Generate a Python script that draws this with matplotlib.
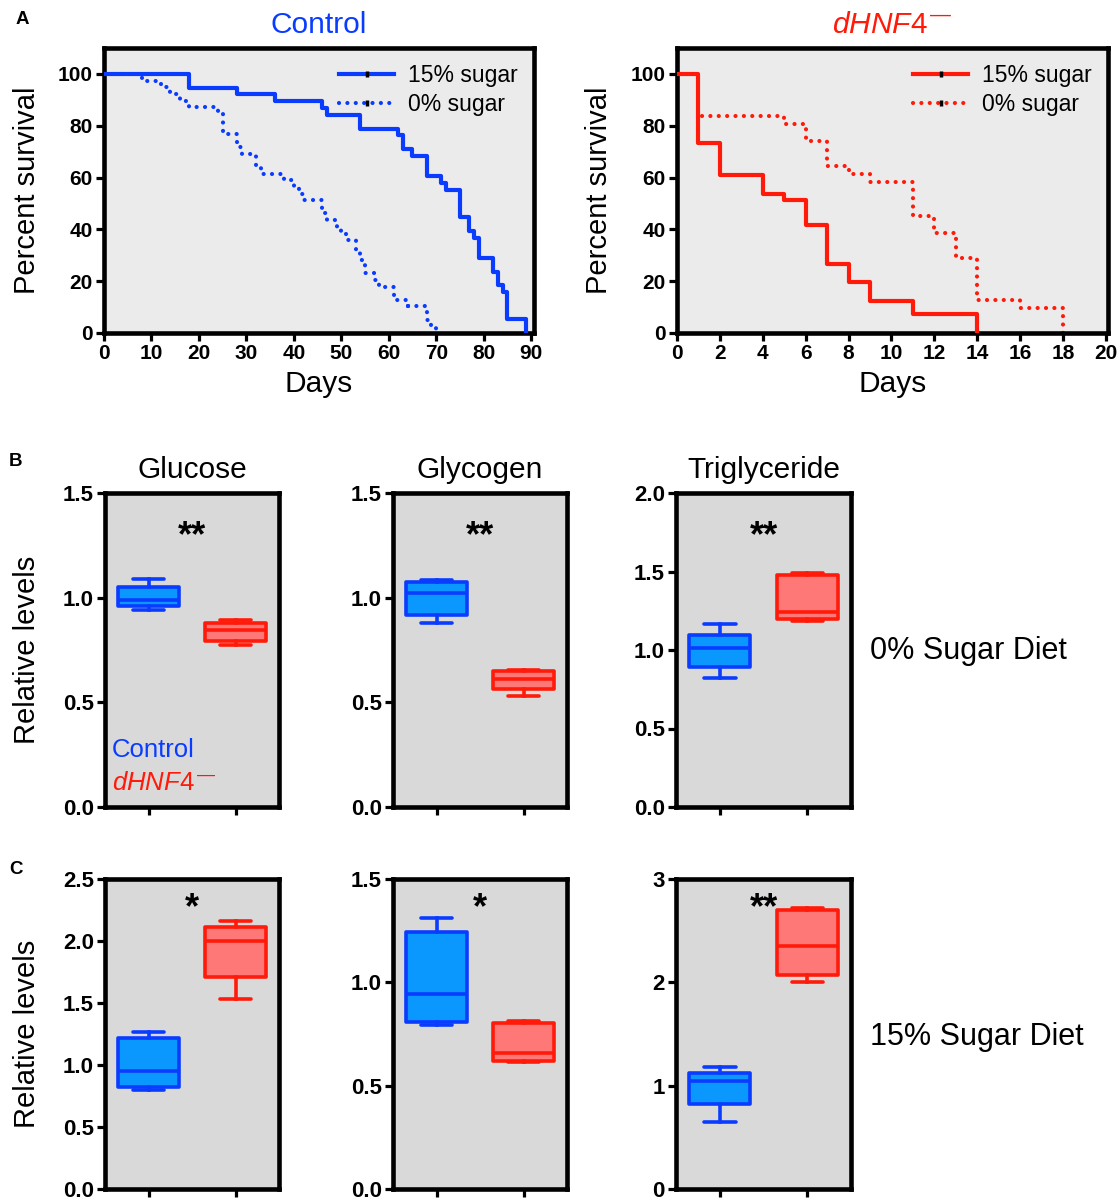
import matplotlib
matplotlib.use("Agg")
import matplotlib.pyplot as plt
from matplotlib.lines import Line2D
from matplotlib.transforms import offset_copy

plt.rcParams['font.family'] = ['Liberation Sans', 'DejaVu Sans']
plt.rcParams['mathtext.fontset'] = 'custom'
plt.rcParams['mathtext.rm'] = 'Liberation Sans'
plt.rcParams['mathtext.it'] = 'Liberation Sans:italic'
plt.rcParams['mathtext.bf'] = 'Liberation Sans:bold'

# ---------------- data ----------------
# Survival (Kaplan-Meier steps): day of change, percent surviving after it
ctrl15_days = [0, 18, 28, 36, 46, 47, 54, 62, 63, 65, 68, 71, 72, 75, 77, 78, 79, 82, 83, 84, 85, 89]
ctrl15_surv = [100, 94.7, 92.1, 89.5, 86.8, 84.2, 78.9, 76.3, 71.1, 68.4, 60.5, 57.9, 55.3, 44.7,
               39.5, 36.8, 28.9, 23.7, 18.4, 15.8, 5.3, 0]
ctrl0_days = [0, 8, 12, 14, 16, 18, 24, 25, 28, 29, 32, 33, 38, 40, 41, 42, 46, 47, 49, 50, 51,
              53, 54, 55, 57, 58, 61, 64, 68, 69, 70]
ctrl0_surv = [100, 97.4, 94.9, 92.3, 89.7, 87.2, 84.6, 76.9, 71.8, 69.2, 64.1, 61.5, 59.0, 56.4,
              53.8, 51.3, 46.2, 43.6, 41.0, 38.5, 35.9, 30.8, 28.2, 23.1, 20.5, 17.9, 12.8, 10.3,
              5.1, 2.6, 0]
hnf15_days = [0, 1, 2, 4, 5, 6, 7, 8, 9, 11, 14]
hnf15_surv = [100, 73.2, 61.0, 53.7, 51.2, 41.5, 26.8, 19.5, 12.2, 7.3, 0]
hnf0_days = [0, 1, 5, 6, 7, 8, 9, 11, 12, 13, 14, 16, 18]
hnf0_surv = [100, 83.9, 80.6, 74.2, 64.5, 61.3, 58.1, 45.2, 38.7, 29.0, 12.9, 9.7, 0]

survival_legend = ['15% sugar', '0% sugar']

# Box plots: [min, q1, median, q3, max]
metabolites = ['Glucose', 'Glycogen', 'Triglyceride']
groups = ['Control', 'dHNF4']
sugar0_ctrl = [[0.94, 0.96, 0.99, 1.05, 1.09],
               [0.88, 0.915, 1.02, 1.075, 1.085],
               [0.82, 0.89, 1.01, 1.095, 1.165]]
sugar0_hnf = [[0.775, 0.795, 0.845, 0.88, 0.895],
              [0.53, 0.565, 0.61, 0.65, 0.655],
              [1.185, 1.195, 1.245, 1.48, 1.49]]
sugar15_ctrl = [[0.80, 0.82, 0.955, 1.215, 1.27],
                [0.795, 0.81, 0.945, 1.245, 1.31],
                [0.65, 0.825, 1.05, 1.125, 1.18]]
sugar15_hnf = [[1.535, 1.71, 2.0, 2.115, 2.16],
               [0.615, 0.62, 0.66, 0.805, 0.815],
               [2.0, 2.07, 2.35, 2.70, 2.72]]
sig0 = ['**', '**', '**']
sig15 = ['*', '*', '**']
ylims0 = [1.5, 1.5, 2.0]
yticks0 = [[0.0, 0.5, 1.0, 1.5], [0.0, 0.5, 1.0, 1.5], [0.0, 0.5, 1.0, 1.5, 2.0]]
ylims15 = [2.5, 1.5, 3.0]
yticks15 = [[0.0, 0.5, 1.0, 1.5, 2.0, 2.5], [0.0, 0.5, 1.0, 1.5], [0, 1, 2, 3]]
row_labels = ['0% Sugar Diet', '15% Sugar Diet']

HNF_LABEL = '$\\mathit{dHNF4}^{\\,\u2014}$'

# ---------------- style ----------------
BLUE = '#0a3cff'
RED = '#ff1a0a'
BLUE_FILL = '#0a98ff'
RED_FILL = '#ff7878'
BG_A = '#ebebeb'
BG_B = '#d9d9d9'
W, H = 1119, 1202
DOTS = (0, (0.01, 2.0))

fig = plt.figure(figsize=(W / 100, H / 100), dpi=100)


def rect(x0, x1, y0, y1):
    return [x0 / W, 1 - y1 / H, (x1 - x0) / W, (y1 - y0) / H]


def style_axes(ax, bg, lw=3.3):
    ax.set_facecolor(bg)
    for s in ax.spines.values():
        s.set_linewidth(lw)
        s.set_color('black')
    ax.tick_params(direction='out', length=6, width=2.3, color='black', pad=2)
    for lab in ax.get_xticklabels() + ax.get_yticklabels():
        lab.set_fontweight('bold')


# ---------------- Panel A ----------------
axA1 = fig.add_axes(rect(104, 534, 48, 333))
axA2 = fig.add_axes(rect(677, 1108, 48, 333))

for ax, d15, s15, d0, s0, col, xmax, xt, title in [
        (axA1, ctrl15_days, ctrl15_surv, ctrl0_days, ctrl0_surv, BLUE, 90.6, range(0, 91, 10), 'Control'),
        (axA2, hnf15_days, hnf15_surv, hnf0_days, hnf0_surv, RED, 20.1, range(0, 21, 2), HNF_LABEL)]:
    ax.step(d0, s0, where='post', color=col, lw=3.0, linestyle=DOTS,
            dash_capstyle='round', zorder=2)
    ax.step(d15, s15, where='post', color=col, lw=3.0, zorder=3)
    ax.set_xlim(0, xmax)
    ax.set_ylim(0, 110)
    ax.set_xticks(list(xt))
    ax.set_yticks([0, 20, 40, 60, 80, 100])
    ax.tick_params(labelsize=15)
    style_axes(ax, BG_A)
    ax.set_xlabel('Days', fontsize=21.5, labelpad=5)
    ax.set_ylabel('Percent survival', fontsize=21, va='center')
    ax.yaxis.set_label_coords(-0.18, 0.5)
    ax.set_title(title, fontsize=21.5, color=col, pad=11)
    handles = [Line2D([], [], color=col, lw=3.0, marker='|', markersize=5, mew=2.5,
                      markeredgecolor='black'),
               Line2D([], [], color=col, lw=3.0, linestyle=DOTS,
                      dash_capstyle='round', marker='|', markersize=5, mew=2.5,
                      markeredgecolor='black')]
    ax.legend(handles, survival_legend, loc='upper right', frameon=False, fontsize=16.5,
              handlelength=2.4, handletextpad=0.6, labelspacing=0.25, numpoints=1,
              borderaxespad=0.3)

# ---------------- Panels B and C ----------------
col_x = [(105, 279), (393, 567), (676, 851)]
row_y = [(493, 807), (879, 1189)]


def draw_box(ax, ctrl, hnf, ymax, ticks):
    stats = []
    for vals in (ctrl, hnf):
        stats.append(dict(whislo=vals[0], q1=vals[1], med=vals[2], q3=vals[3], whishi=vals[4]))
    bp = ax.bxp(stats, positions=[1, 2], widths=0.7, patch_artist=True, showfliers=False,
                capwidths=0.36)
    for i, (ec, fc) in enumerate([(BLUE, BLUE_FILL), (RED, RED_FILL)]):
        bp['boxes'][i].set(facecolor=fc, edgecolor=ec, linewidth=2.6, joinstyle='round')
        bp['medians'][i].set(color=ec, linewidth=2.6)
        for j in (2 * i, 2 * i + 1):
            bp['whiskers'][j].set(color=ec, linewidth=2.6)
            bp['caps'][j].set(color=ec, linewidth=2.6, solid_capstyle='round')
    ax.set_xlim(0.5, 2.5)
    ax.set_ylim(0, ymax)
    ax.set_yticks(ticks)
    if isinstance(ticks[1], int):
        ax.set_yticklabels([str(t) for t in ticks])
    else:
        ax.set_yticklabels(['%.1f' % t for t in ticks])
    ax.set_xticks([1, 2])
    ax.set_xticklabels(['', ''])
    ax.tick_params(labelsize=16)
    style_axes(ax, BG_B)
    return offset_copy(ax.transAxes, fig=fig, x=0, y=-0.57 * 26, units='points')


for r, (ctrl_list, hnf_list, ymaxes, tlist, sigs, sig_y) in enumerate([
        (sugar0_ctrl, sugar0_hnf, ylims0, yticks0, sig0, 0.895),
        (sugar15_ctrl, sugar15_hnf, ylims15, yticks15, sig15, 0.94)]):
    for c in range(3):
        x0, x1 = col_x[c]
        y0, y1 = row_y[r]
        ax = fig.add_axes(rect(x0, x1, y0, y1))
        tr = draw_box(ax, ctrl_list[c], hnf_list[c], ymaxes[c], tlist[c])
        ax.text(0.5, sig_y, sigs[c], transform=tr, ha='center', va='baseline',
                fontsize=26, fontweight='bold')
        if r == 0:
            ax.set_title(metabolites[c], fontsize=21.5, pad=11)
        if c == 0:
            ax.set_ylabel('Relative levels', fontsize=21, va='center')
            ax.yaxis.set_label_coords(-0.45, 0.5)
        if r == 0 and c == 0:
            ax.text(0.04, 0.18, groups[0], transform=ax.transAxes, color=BLUE, fontsize=18.5,
                    va='center', ha='left')
            ax.text(0.04, 0.075, HNF_LABEL, transform=ax.transAxes,
                    color=RED, fontsize=18.5, va='center', ha='left')

# Row labels
fig.text(870 / W, 1 - 651 / H, row_labels[0], fontsize=22, va='center', ha='left')
fig.text(870 / W, 1 - 1037 / H, row_labels[1], fontsize=22, va='center', ha='left')

# Panel letters
fig.text(22 / W, 1 - 20 / H, 'A', fontsize=13.5, fontweight='bold', ha='center', va='center')
fig.text(16 / W, 1 - 462 / H, 'B', fontsize=13.5, fontweight='bold', ha='center', va='center')
fig.text(16 / W, 1 - 869 / H, 'C', fontsize=13.5, fontweight='bold', ha='center', va='center')

fig.savefig('out.png', dpi=100)
